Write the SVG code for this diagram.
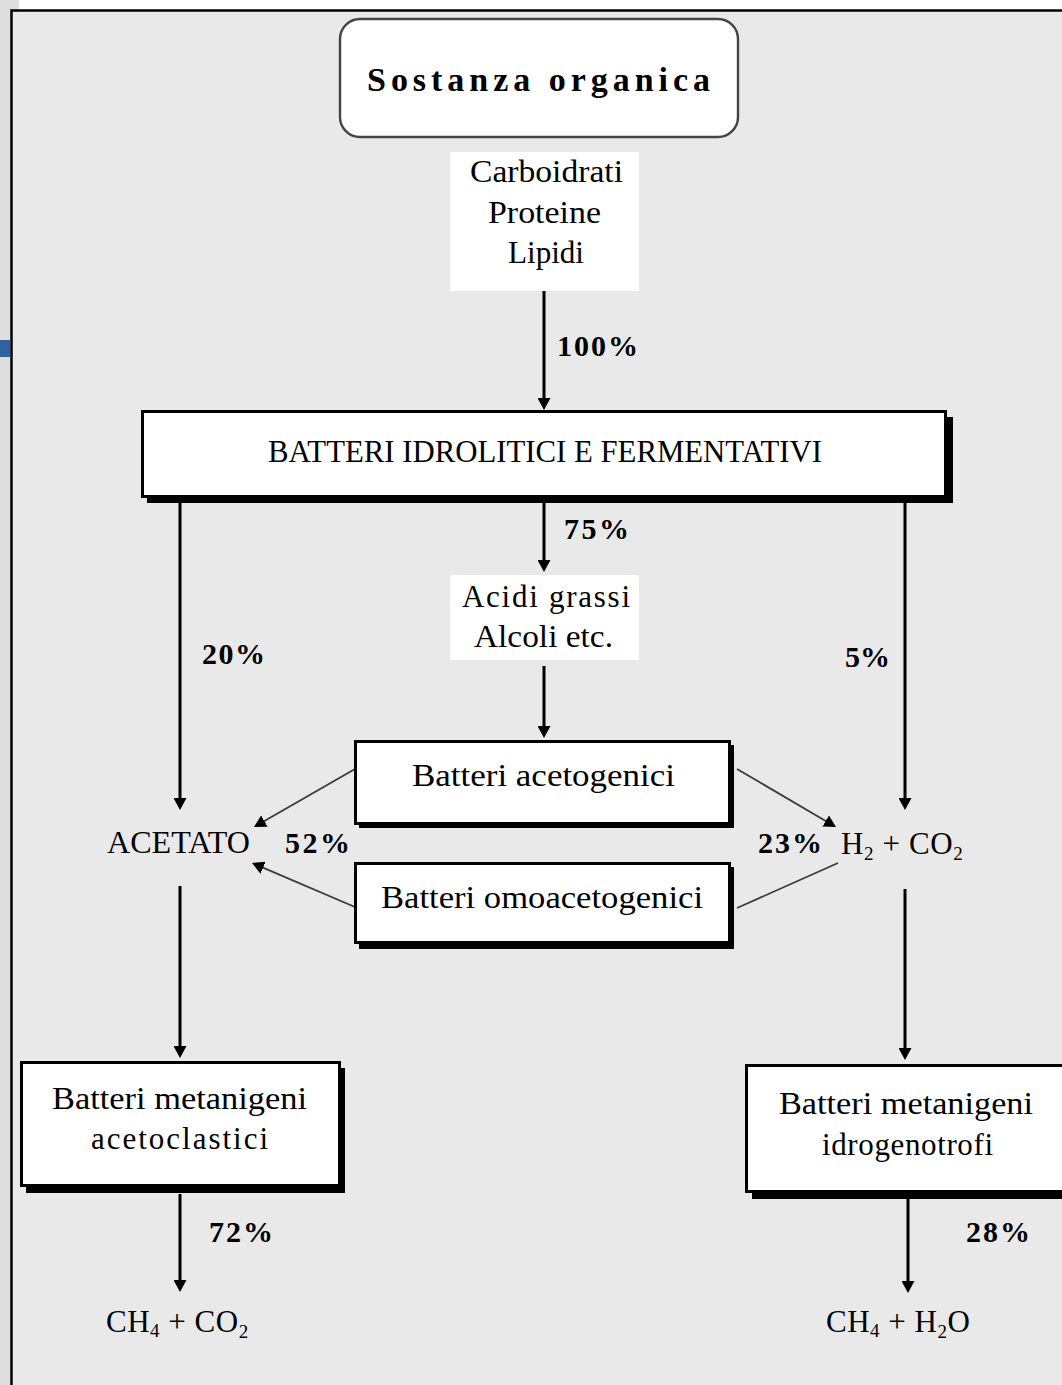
<svg xmlns="http://www.w3.org/2000/svg" width="1062" height="1385" viewBox="0 0 1062 1385">
  <defs>
    <marker id="head" viewBox="0 0 12 13" refX="4" refY="6.5" markerWidth="12" markerHeight="13" markerUnits="userSpaceOnUse" orient="auto">
      <path d="M0,0 L12,6.5 L0,13 z" fill="#000"/>
    </marker>
    <style>
      .t { font-family: "Liberation Serif", "Times New Roman", serif; font-size: 31px; fill: #000; }
      .pct { font-family: "Liberation Serif", "Times New Roman", serif; font-size: 30px; font-weight: bold; fill: #000; }
      .box { fill: #fff; stroke: #000; stroke-width: 3; }
      .shadow { fill: #000; }
      .plain { fill: #fff; }
      .flow { stroke: #000; stroke-width: 3; fill: none; }
      .diag { stroke: #3a3a3a; stroke-width: 1.8; fill: none; }
    </style>
  </defs>

  <!-- page background and frame -->
  <rect x="0" y="0" width="1062" height="1385" fill="#dedede"/>
  <rect x="19" y="0" width="1043" height="10" fill="#fff"/>
  <rect x="11" y="10" width="1051" height="1375" fill="#e9e9e9"/>
  <path d="M11.5,1385 V10.5 H1062" stroke="#000" stroke-width="2.5" fill="none"/>
  <rect x="0" y="340" width="10" height="17" fill="#2e63a0"/>

  <!-- connectors -->
  <g id="connectors">
    <line class="flow" x1="544" y1="291" x2="544" y2="402" marker-end="url(#head)"/>
    <line class="flow" x1="180" y1="498" x2="180" y2="802" marker-end="url(#head)"/>
    <line class="flow" x1="544" y1="498" x2="544" y2="564" marker-end="url(#head)"/>
    <line class="flow" x1="905" y1="498" x2="905" y2="802" marker-end="url(#head)"/>
    <line class="flow" x1="544" y1="666" x2="544" y2="730" marker-end="url(#head)"/>
    <line class="flow" x1="180" y1="886" x2="180" y2="1050" marker-end="url(#head)"/>
    <line class="flow" x1="905" y1="889" x2="905" y2="1052" marker-end="url(#head)"/>
    <line class="flow" x1="180" y1="1194" x2="180" y2="1284" marker-end="url(#head)"/>
    <line class="flow" x1="908" y1="1199" x2="908" y2="1285" marker-end="url(#head)"/>
    <line class="diag" x1="355" y1="769" x2="260.9" y2="823" marker-end="url(#head)"/>
    <line class="diag" x1="355" y1="907" x2="259.4" y2="866.1" marker-end="url(#head)"/>
    <line class="diag" x1="737" y1="769" x2="829.1" y2="823" marker-end="url(#head)"/>
    <line class="diag" x1="737" y1="908" x2="838" y2="863"/>
  </g>

  <!-- substrate -->
  <g id="sostanza">
    <rect x="340" y="19" width="398" height="118" rx="20" ry="20" fill="#fff" stroke="#444" stroke-width="2.4"/>
    <text x="367" y="91" font-family="Liberation Serif, serif" font-size="34" font-weight="bold" textLength="343" lengthAdjust="spacing">Sostanza organica</text>
  </g>

  <g id="macromolecole">
    <rect class="plain" x="450" y="152" width="189" height="139"/>
    <text class="t" x="470" y="182" textLength="153" lengthAdjust="spacingAndGlyphs">Carboidrati</text>
    <text class="t" x="488" y="223" textLength="113" lengthAdjust="spacingAndGlyphs">Proteine</text>
    <text class="t" x="508" y="263" textLength="76" lengthAdjust="spacingAndGlyphs">Lipidi</text>
  </g>

  <g id="idrolitici">
    <rect class="shadow" x="147" y="417" width="806" height="86"/>
    <rect class="box" x="142.5" y="411.5" width="803" height="85"/>
    <text class="t" x="268" y="462" font-size="32" textLength="554" lengthAdjust="spacingAndGlyphs">BATTERI IDROLITICI E FERMENTATIVI</text>
  </g>

  <g id="acidi">
    <rect class="plain" x="450" y="575" width="189" height="85"/>
    <text class="t" x="462" y="607" textLength="168" lengthAdjust="spacing">Acidi grassi</text>
    <text class="t" x="474" y="647" textLength="139" lengthAdjust="spacingAndGlyphs">Alcoli etc.</text>
  </g>

  <g id="acetogenici">
    <rect class="shadow" x="359" y="745" width="375" height="83"/>
    <rect class="box" x="355.5" y="741.5" width="374" height="82"/>
    <text class="t" x="412" y="786" textLength="263" lengthAdjust="spacingAndGlyphs">Batteri acetogenici</text>
  </g>

  <g id="omoacetogenici">
    <rect class="shadow" x="359" y="867" width="375" height="82"/>
    <rect class="box" x="355.5" y="863.5" width="374" height="79"/>
    <text class="t" x="381" y="908" textLength="322" lengthAdjust="spacingAndGlyphs">Batteri omoacetogenici</text>
  </g>

  <g id="acetato">
    <text class="t" x="107" y="853" textLength="143" lengthAdjust="spacingAndGlyphs">ACETATO</text>
  </g>

  <g id="idrogeno">
    <text class="t" x="841" y="854" font-size="33" letter-spacing="0.6">H<tspan font-size="19" dy="6">2</tspan><tspan dy="-6"> + CO</tspan><tspan font-size="19" dy="6">2</tspan></text>
  </g>

  <g id="acetoclastici">
    <rect class="shadow" x="26" y="1068" width="319" height="125"/>
    <rect class="box" x="21.5" y="1062.5" width="318" height="123"/>
    <text class="t" x="52" y="1109" textLength="255" lengthAdjust="spacingAndGlyphs">Batteri metanigeni</text>
    <text class="t" x="91" y="1149" textLength="177" lengthAdjust="spacing">acetoclastici</text>
  </g>

  <g id="idrogenotrofi">
    <rect class="shadow" x="752" y="1070" width="320" height="129"/>
    <rect class="box" x="746.5" y="1065.5" width="330" height="126"/>
    <text class="t" x="779" y="1114" textLength="254" lengthAdjust="spacingAndGlyphs">Batteri metanigeni</text>
    <text class="t" x="822" y="1155" textLength="171" lengthAdjust="spacing">idrogenotrofi</text>
  </g>

  <g id="prodotti-acetoclastici">
    <text class="t" x="106" y="1332" font-size="33" letter-spacing="0.5">CH<tspan font-size="19" dy="5">4</tspan><tspan dy="-5"> + CO</tspan><tspan font-size="19" dy="6">2</tspan></text>
  </g>

  <g id="prodotti-idrogenotrofi">
    <text class="t" x="826" y="1332" font-size="33" letter-spacing="0.5">CH<tspan font-size="19" dy="5">4</tspan><tspan dy="-5"> + H</tspan><tspan font-size="19" dy="6">2</tspan><tspan dy="-6">O</tspan></text>
  </g>

  <!-- flow percentages -->
  <g id="percentuali">
    <text class="pct" x="557" y="356" textLength="81" lengthAdjust="spacing">100%</text>
    <text class="pct" x="564" y="539" textLength="65" lengthAdjust="spacing">75%</text>
    <text class="pct" x="202" y="664" textLength="63" lengthAdjust="spacing">20%</text>
    <text class="pct" x="845" y="667" textLength="45" lengthAdjust="spacing">5%</text>
    <text class="pct" x="285" y="853" textLength="65" lengthAdjust="spacing">52%</text>
    <text class="pct" x="758" y="853" textLength="64" lengthAdjust="spacing">23%</text>
    <text class="pct" x="209" y="1242" textLength="64" lengthAdjust="spacing">72%</text>
    <text class="pct" x="966" y="1242" textLength="64" lengthAdjust="spacing">28%</text>
  </g>
</svg>
